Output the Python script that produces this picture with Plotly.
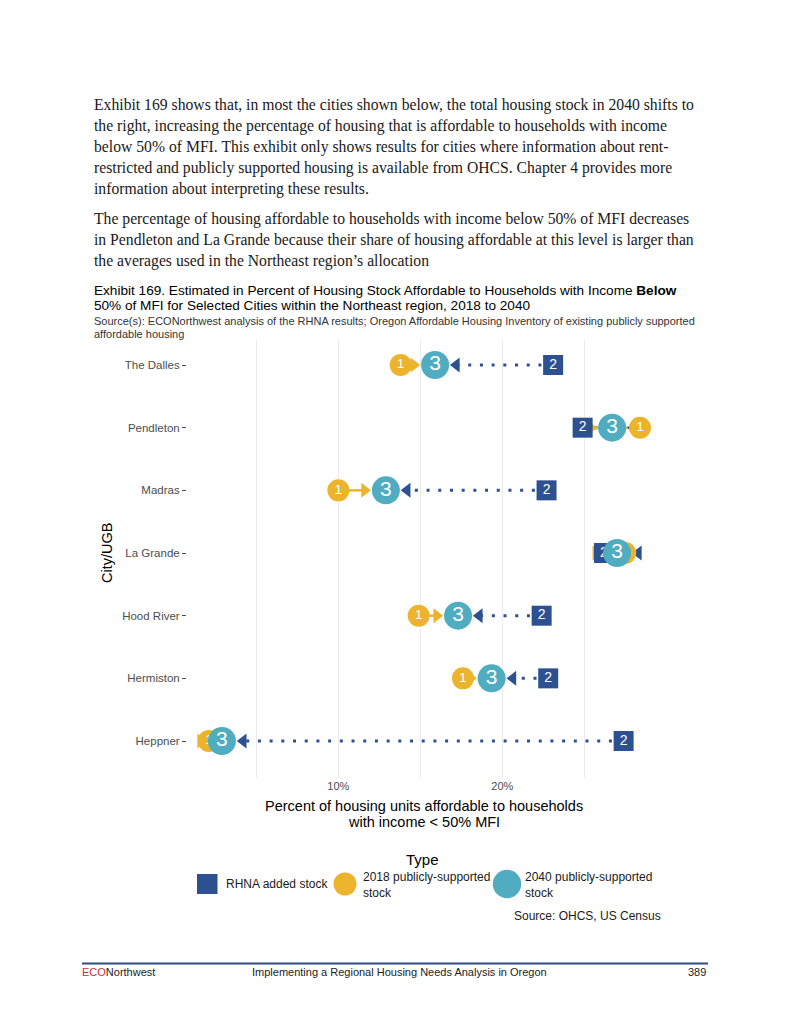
import plotly.graph_objects as go

# ---------------- data ----------------
cities = ["The Dalles", "Pendleton", "Madras", "La Grande", "Hood River", "Hermiston", "Heppner"]
stock_2018 = [13.8, 28.4, 10.0, 27.5, 14.9, 17.6, 2.1]     # 1: 2018 publicly-supported stock
rhna_added = [23.1, 24.9, 22.7, 26.2, 22.4, 22.8, 27.4]    # 2: RHNA added stock
stock_2040 = [15.9, 26.7, 12.9, 27.0, 17.3, 19.35, 2.9]    # 3: 2040 publicly-supported stock
x_tickvals = [5, 10, 15, 20, 25]
x_ticktext = ["", "10%", "", "20%", ""]

# ---------------- style ----------------
BLUE = "#2D5190"
YELLOW = "#ECB42C"
TEAL = "#50ADC1"
GRAY = "#4D4D4D"
SANS = "Liberation Sans, Arial, sans-serif"
SERIF = "Liberation Serif, Times New Roman, serif"
ARROW_GAP = 1.3

OFF = 8  # page body margin of the html page
W, H = 800 - OFF, 1035 - OFF
L, R, T, B = 187 - OFF, 661 - OFF, 339 - OFF, 778 - OFF
PW, PH = R - L, B - T


def px(x):
    return (x - OFF - L) / PW


def py(y):
    return (B - (y - OFF)) / PH


fig = go.Figure()

# dotted blue segments from RHNA to arrowhead
bx, by = [], []
for c, x2, x3 in zip(cities, rhna_added, stock_2040):
    bx += [x2, x3 + ARROW_GAP, None]
    by += [c, c, None]
fig.add_trace(go.Scatter(x=bx, y=by, mode="lines",
                         line=dict(color=BLUE, width=3, dash="3px,8.7px"),
                         hoverinfo="skip", showlegend=False))

# yellow solid segments from 2018 to arrowhead
yx, yy = [], []
for c, x1, x3 in zip(cities, stock_2018, stock_2040):
    yx += [x1, x3 - ARROW_GAP, None]
    yy += [c, c, None]
fig.add_trace(go.Scatter(x=yx, y=yy, mode="lines",
                         line=dict(color=YELLOW, width=2.5),
                         hoverinfo="skip", showlegend=False))

# arrowheads
fig.add_trace(go.Scatter(x=[v + ARROW_GAP for v in stock_2040], y=cities, mode="markers",
                         marker=dict(symbol="triangle-left", size=13, color=BLUE),
                         hoverinfo="skip", showlegend=False))
fig.add_trace(go.Scatter(x=[v - ARROW_GAP for v in stock_2040], y=cities, mode="markers",
                         marker=dict(symbol="triangle-right", size=13, color=YELLOW),
                         hoverinfo="skip", showlegend=False))

# points
fig.add_trace(go.Scatter(x=rhna_added, y=cities, mode="markers+text", text=["2"] * len(cities),
                         textposition="middle center",
                         textfont=dict(color="white", size=14, family=SANS),
                         marker=dict(symbol="square", size=20, color=BLUE),
                         name="RHNA added stock", showlegend=False))
fig.add_trace(go.Scatter(x=stock_2018, y=cities, mode="markers+text", text=["1"] * len(cities),
                         textposition="middle center",
                         textfont=dict(color="white", size=13, family=SANS),
                         marker=dict(symbol="circle", size=22, color=YELLOW),
                         name="2018 publicly-supported stock", showlegend=False))
fig.add_trace(go.Scatter(x=stock_2040, y=cities, mode="markers+text", text=["3"] * len(cities),
                         textposition="middle center",
                         textfont=dict(color="white", size=21, family=SANS),
                         marker=dict(symbol="circle", size=28, color=TEAL),
                         name="2040 publicly-supported stock", showlegend=False))

fig.update_xaxes(range=[0.77, 29.68], tickvals=x_tickvals, ticktext=x_ticktext,
                 showgrid=True, gridcolor="#EBEBEB", gridwidth=1, zeroline=False,
                 ticks="", showline=False, tickfont=dict(family=SANS, size=11, color=GRAY),
                 fixedrange=True)
fig.update_yaxes(type="category", categoryorder="array", categoryarray=cities,
                 range=[6.59, -0.415], showgrid=False, zeroline=False, showline=False,
                 ticks="outside", ticklen=4, tickcolor=GRAY, tickwidth=1,
                 tickfont=dict(family=SANS, size=11.5, color=GRAY), fixedrange=True)

ann = []
shapes = []


def text(x, y, s, size, color="black", family=SANS, xanchor="left", yanchor="middle", textangle=0):
    if xanchor == "left":
        x -= 2
    elif xanchor == "right":
        x += 2
    ann.append(dict(x=px(x), y=py(y), xref="paper", yref="paper", text=s, showarrow=False,
                    xanchor=xanchor, yanchor=yanchor, align=xanchor if xanchor != "center" else "center",
                    font=dict(size=size, color=color, family=family), textangle=textangle))


# body paragraphs
para1 = [
    "Exhibit 169 shows that, in most the cities shown below, the total housing stock in 2040 shifts to",
    "the right, increasing the percentage of housing that is affordable to households with income",
    "below 50% of MFI. This exhibit only shows results for cities where information about rent-",
    "restricted and publicly supported housing is available from OHCS. Chapter 4 provides more",
    "information about interpreting these results.",
]
para2 = [
    "The percentage of housing affordable to households with income below 50% of MFI decreases",
    "in Pendleton and La Grande because their share of housing affordable at this level is larger than",
    "the averages used in the Northeast region\u2019s allocation",
]
for i, s in enumerate(para1):
    text(94, 105 + 21 * i, s, 15.7, color="#1a1a1a", family=SERIF)
for i, s in enumerate(para2):
    text(94, 219 + 21 * i, s, 15.7, color="#1a1a1a", family=SERIF)

# exhibit title
text(94, 290, "Exhibit 169. Estimated in Percent of Housing Stock Affordable to Households with Income <b>Below</b>", 13.6)
text(94, 305, "50% of MFI for Selected Cities within the Northeast region, 2018 to 2040", 13.6)
text(94, 321, "Source(s): ECONorthwest analysis of the RHNA results; Oregon Affordable Housing Inventory of existing publicly supported", 11, color="#333333")
text(94, 334, "affordable housing", 11, color="#333333")

# axis titles
text(424, 806, "Percent of housing units affordable to households", 14.5, xanchor="center")
text(424, 822, "with income < 50% MFI", 14.5, xanchor="center")
text(107, 553, "City/UGB", 14.5, xanchor="center", textangle=-90)

# legend
text(422.7, 859, "Type", 15, xanchor="center")
shapes.append(dict(type="rect", xref="paper", yref="paper", x0=px(197), x1=px(217.5),
                   y0=py(894), y1=py(874), fillcolor=BLUE, line=dict(width=0), layer="above"))
text(226, 884, "RHNA added stock", 12, color="#1a1a1a")
for cx, r, col in [(345, 11.5, YELLOW), (507, 14.2, TEAL)]:
    shapes.append(dict(type="circle", xref="paper", yref="paper", x0=px(cx - r), x1=px(cx + r),
                       y0=py(884 + r), y1=py(884 - r), fillcolor=col, line=dict(width=0),
                       layer="above"))
text(362.5, 885, "2018 publicly-supported<br>stock", 12, color="#1a1a1a")
text(525, 885, "2040 publicly-supported<br>stock", 12, color="#1a1a1a")
text(661, 915.5, "Source: OHCS, US Census", 12, color="#1a1a1a", xanchor="right")

# footer
shapes.append(dict(type="line", xref="paper", yref="paper", x0=px(82), x1=px(708),
                   y0=py(963.5), y1=py(963.5), line=dict(color="#2E4A8A", width=2)))
text(82, 972, '<span style="color:#C8312B">ECO</span>Northwest', 11, color="#222222")
text(252, 972, "Implementing a Regional Housing Needs Analysis in Oregon", 11, color="#222222")
text(706, 972, "389", 11, color="#222222", xanchor="right")

fig.update_layout(width=W, height=H, margin=dict(l=L, r=W - R, t=T, b=H - B, autoexpand=False),
                  plot_bgcolor="white", paper_bgcolor="white", showlegend=False,
                  annotations=ann, shapes=shapes)

fig.write_html("out.html")
